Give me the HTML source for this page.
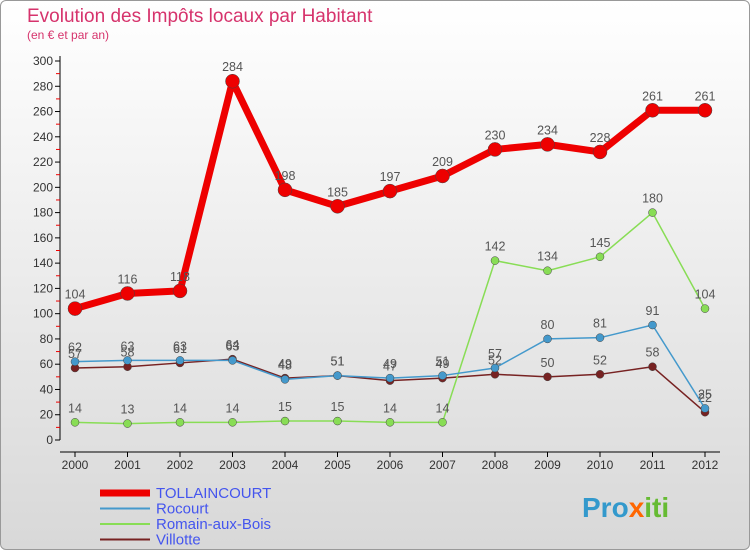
<!DOCTYPE html>
<html><head><meta charset="utf-8"><style>
body{margin:0;width:750px;height:550px;overflow:hidden;font-family:"Liberation Sans",sans-serif}
#c{position:absolute;left:0;top:0;width:748px;height:548px;border:1px solid #999;border-radius:6px;background:linear-gradient(#fff,#d8d8d8);}
</style></head><body>
<div id="c">
<svg id="s" width="750" height="550" style="position:absolute;left:-1px;top:-1px">
<text x="27" y="22" font-size="19" fill="#d6336c">Evolution des Impôts locaux par Habitant</text>
<text x="27" y="39" font-size="12" fill="#d6336c">(en € et par an)</text>
<g id="ax"></g><g id="marks"></g><g id="leg"></g>
<text x="582" y="517" font-size="28" font-weight="bold" fill="#3399cc">Pro<tspan fill="#ff6600">x</tspan><tspan fill="#66bb33">iti</tspan></text>
</svg></div>
<script>
const years=["2000","2001","2002","2003","2004","2005","2006","2007","2008","2009","2010","2011","2012"];
const tollaincourt=[104,116,118,284,198,185,197,209,230,234,228,261,261];
const rocourt=[62,63,63,63,48,51,49,51,57,80,81,91,25];
const romain=[14,13,14,14,15,15,14,14,142,134,145,180,104];
const villotte=[57,58,61,64,49,51,47,49,52,50,52,58,22];
const yTicks=[0,20,40,60,80,100,120,140,160,180,200,220,240,260,280,300];
const NS="http://www.w3.org/2000/svg";
const X=i=>75+i*52.5, Y=v=>440-v*(379/300);
function el(t,a,p){const e=document.createElementNS(NS,t);for(const k in a)e.setAttribute(k,a[k]);p.appendChild(e);return e;}
const ax=document.getElementById('ax'),mk=document.getElementById('marks'),lg=document.getElementById('leg');
let l=el('line',{x1:60,y1:56,x2:60,y2:440,stroke:'#000'},ax);
l=el('line',{x1:60,y1:452,x2:720,y2:452,stroke:'#000'},ax);
yTicks.forEach(v=>{el('line',{x1:55,y1:Y(v),x2:60,y2:Y(v),stroke:'#000'},ax);
if(v<300)el('line',{x1:56,y1:Y(v+10),x2:60,y2:Y(v+10),stroke:'#e00'},ax);
const t=el('text',{x:53,y:Y(v)+4,'font-size':12,'text-anchor':'end',fill:'#333'},ax);t.textContent=v;
});
years.forEach((y,i)=>{el('line',{x1:X(i),y1:452,x2:X(i),y2:457,stroke:'#000'},ax);
const t=el('text',{x:X(i),y:469,'font-size':12,'text-anchor':'middle',fill:'#333'},ax);t.textContent=y;
});
const series=[
{n:'Villotte',d:villotte,c:'#772222',w:1.5,r:4,name:'villotte'},
{n:'Romain-aux-Bois',d:romain,c:'#88dd55',w:1.5,r:4,name:'romain-aux-bois'},
{n:'Rocourt',d:rocourt,c:'#4499cc',w:1.5,r:4,name:'rocourt'},
{n:'TOLLAINCOURT',d:tollaincourt,c:'#ee0000',w:7,r:7,name:'tollaincourt'}];
series.forEach(s=>{
const p=el('polyline',{points:s.d.map((v,i)=>X(i)+','+Y(v)).join(' '),fill:'none',stroke:s.c,'stroke-width':s.w,'stroke-linejoin':'round'},mk);

s.d.forEach((v,i)=>{const c=el('circle',{cx:X(i),cy:Y(v),r:s.r,fill:s.c,stroke:'#444','stroke-width':0.5},mk);

const t=el('text',{x:X(i),y:Y(v)-10,'font-size':12.5,'text-anchor':'middle',fill:'#555'},mk);t.textContent=v;
});});
[...series].reverse().forEach((s,k)=>{const y=493+k*15.5;
const g=el('g',{},lg);
el('line',{x1:100,y1:y,x2:150,y2:y,stroke:s.c,'stroke-width':k==0?7:2},g);
const t=el('text',{x:156,y:y+5,'font-size':15,fill:'#4455ee'},g);t.textContent=s.n;});
</script></body></html>
